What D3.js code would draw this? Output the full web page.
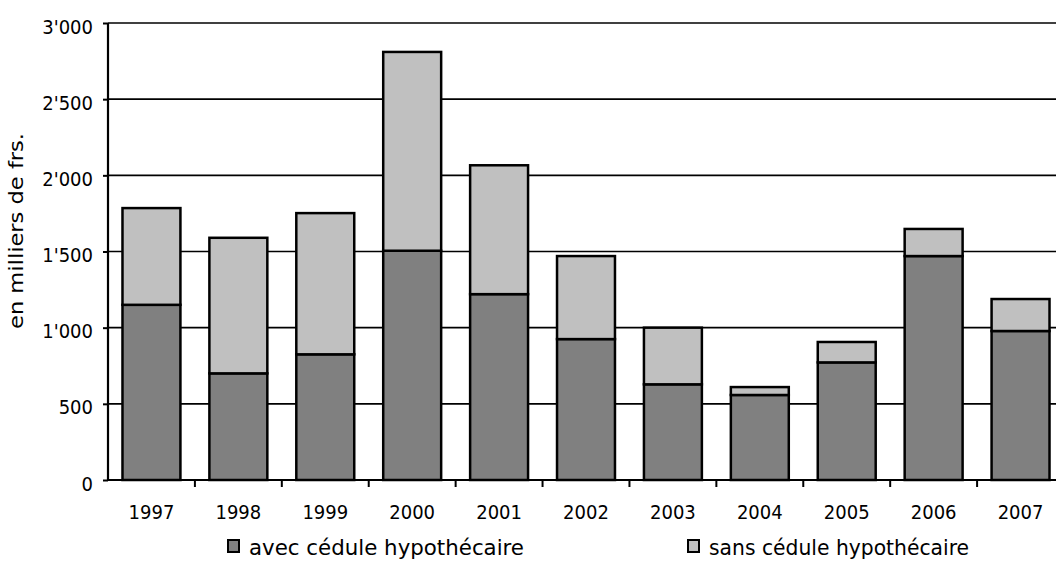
<!DOCTYPE html>
<html>
<head>
<meta charset="utf-8">
<script src="https://cdn.jsdelivr.net/npm/d3@7"></script>
<style>
  body { margin: 0; background: #fff; }
  svg text { font-family: "DejaVu Sans Condensed", "DejaVu Sans", sans-serif; font-stretch: condensed; fill: #000; }
</style>
</head>
<body>
<div id="chart"></div>
<script>
// data (milliers de frs.)
const years = ["1997", "1998", "1999", "2000", "2001", "2002", "2003", "2004", "2005", "2006", "2007"];
const avec = [1150, 700, 825, 1505, 1220, 925, 628, 558, 772, 1470, 978];
const sans = [635, 890, 927, 1305, 846, 545, 372, 52, 134, 178, 210];
const yTicks = [0, 500, 1000, 1500, 2000, 2500, 3000];
const seriesNames = ["avec cédule hypothécaire", "sans cédule hypothécaire"];
const colors = ["#808080", "#c0c0c0"];

const width = 1056,
  height = 586,
  margin = { top: 23, bottom: 106, left: 108, right: -8 };

const rows = years.map((y, i) => ({ year: y, avec: avec[i], sans: sans[i] }));
const stack = d3.stack().keys(["avec", "sans"])(rows);

const svg = d3.select("#chart")
  .append("svg")
  .attr("width", width)
  .attr("height", height);

const xScale = d3.scaleBand()
  .domain(years)
  .range([margin.left, width - margin.right])
  .paddingInner(1 / 3)
  .paddingOuter(1 / 6);

const yScale = d3.scaleLinear()
  .domain([0, 3000])
  .range([height - margin.bottom, margin.top]);

const fmt = v => {
  const s = String(v);
  return s.length > 3 ? s.slice(0, -3) + "'" + s.slice(-3) : s;
};

// gridlines
svg.append("g")
  .selectAll("line")
  .data(yTicks.filter(d => d > 0))
  .join("line")
  .attr("x1", margin.left)
  .attr("x2", width - margin.right)
  .attr("y1", d => yScale(d))
  .attr("y2", d => yScale(d))
  .attr("stroke", "#000")
  .attr("stroke-width", 1.6);

// bars
svg.append("g")
  .selectAll("g")
  .data(stack)
  .join("g")
  .attr("fill", (d, i) => colors[i])
  .selectAll("rect")
  .data(d => d)
  .join("rect")
  .attr("x", d => xScale(d.data.year))
  .attr("width", xScale.bandwidth())
  .attr("y", d => yScale(d[1]))
  .attr("height", d => yScale(d[0]) - yScale(d[1]))
  .attr("stroke", "#000")
  .attr("stroke-width", 2.5);

// y axis
const yAxis = svg.append("g")
  .attr("transform", `translate(${margin.left},0)`)
  .call(d3.axisLeft(yScale).tickValues(yTicks).tickFormat(fmt).tickSize(5).tickPadding(10));
yAxis.select(".domain").attr("stroke-width", 2.2).attr("d", `M0,${yScale(0)}V${yScale(3000)}`);
yAxis.selectAll(".tick line").attr("stroke-width", 2);
yAxis.selectAll(".tick text")
  .attr("font-size", 20)
  .attr("dy", "0.5em")
  .style("font-family", '"DejaVu Sans Condensed", "DejaVu Sans", sans-serif');

// x axis
const xAxis = svg.append("g")
  .attr("transform", `translate(0,${yScale(0)})`);
xAxis.append("line")
  .attr("x1", margin.left)
  .attr("x2", width - margin.right)
  .attr("stroke", "#000")
  .attr("stroke-width", 2.2);
xAxis.selectAll(".xtick")
  .data(years.slice(1))
  .join("line")
  .attr("class", "xtick")
  .attr("x1", d => xScale(d) - xScale.bandwidth() / 4)
  .attr("x2", d => xScale(d) - xScale.bandwidth() / 4)
  .attr("y1", 0)
  .attr("y2", 7)
  .attr("stroke", "#000")
  .attr("stroke-width", 2);
xAxis.selectAll(".xlabel")
  .data(years)
  .join("text")
  .attr("class", "xlabel")
  .attr("x", d => xScale(d) + xScale.bandwidth() / 2)
  .attr("y", 39)
  .attr("text-anchor", "middle")
  .attr("font-size", 20)
  .text(d => d);

// y axis title
svg.append("text")
  .attr("transform", `translate(23,231) rotate(-90)`)
  .attr("text-anchor", "middle")
  .attr("font-size", 20)
  .attr("textLength", 196)
  .attr("lengthAdjust", "spacingAndGlyphs")
  .text("en milliers de frs.");

// legend
const legendX = [228, 688];
const legendLen = [275, 260];
const legend = svg.append("g")
  .selectAll("g")
  .data(seriesNames)
  .join("g")
  .attr("transform", (d, i) => `translate(${legendX[i]},540)`);
legend.append("rect")
  .attr("width", 11)
  .attr("height", 12)
  .attr("fill", (d, i) => colors[i])
  .attr("stroke", "#000")
  .attr("stroke-width", 2);
legend.append("text")
  .attr("x", 21)
  .attr("y", 15)
  .attr("font-size", 21)
  .attr("textLength", (d, i) => legendLen[i])
  .attr("lengthAdjust", "spacingAndGlyphs")
  .text(d => d);
</script>
</body>
</html>
